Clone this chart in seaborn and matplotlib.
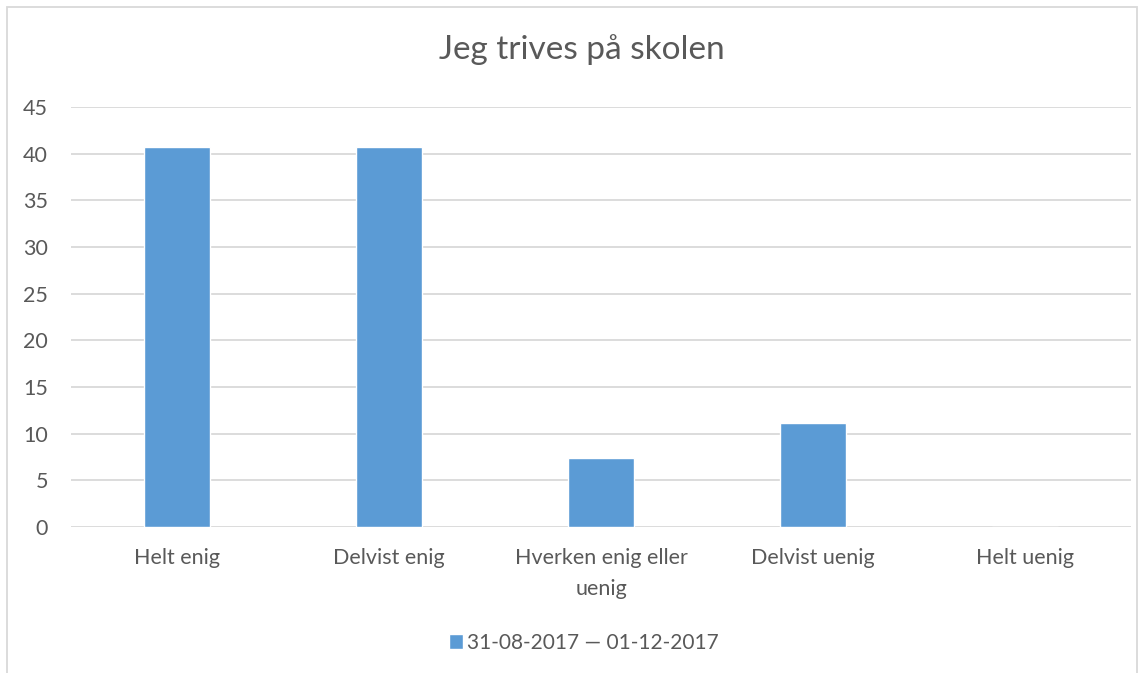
import matplotlib.pyplot as plt
import pandas as pd
import seaborn as sns
from matplotlib.patches import Rectangle


# Dane wykresu
categories = ["Helt enig", "Delvist enig", "Hverken enig eller\nuenig", "Delvist uenig", "Helt uenig"]
values = [40.74, 40.74, 7.41, 11.11, 0.0]
series_label = "31-08-2017 \u2014 01-12-2017"
y_ticks = [0, 5, 10, 15, 20, 25, 30, 35, 40, 45]

BAR_COLOR = "#5B9BD5"
TEXT_COLOR = "#595959"
GRID_COLOR = "#D9D9D9"

df = pd.DataFrame({"kategori": categories, "verdi": values})

sns.set_style("white")
plt.rcParams["font.family"] = ["Lato", "DejaVu Sans"]

fig = plt.figure(figsize=(11.45, 6.73), dpi=100)
ax = fig.add_axes([0.062, 0.2169, 0.9258, 0.6241])

sns.barplot(data=df, x="kategori", y="verdi", color=BAR_COLOR, width=0.31,
            saturation=1, label=series_label, ax=ax)

ax.set_ylim(0, 45)
ax.set_yticks(y_ticks)
ax.set_xlim(-0.5, len(categories) - 0.5)
ax.yaxis.grid(True, color=GRID_COLOR, linewidth=1.3)
ax.set_axisbelow(True)
for spine in ax.spines.values():
    spine.set_visible(False)
ax.tick_params(axis="y", length=0, pad=16.5, labelsize=15.5, labelcolor=TEXT_COLOR)
ax.tick_params(axis="x", length=0, pad=15, labelsize=15.5, labelcolor=TEXT_COLOR)
for label in ax.get_xticklabels():
    label.set_linespacing(1.7)
ax.set_xlabel("")
ax.set_ylabel("")

fig.suptitle("Jeg trives på skolen", x=0.508, y=0.926, va="center",
             fontsize=24, color=TEXT_COLOR)

ax.legend(loc="center", bbox_to_anchor=(0.51, 0.045), bbox_transform=fig.transFigure,
          frameon=False, fontsize=15, labelcolor=TEXT_COLOR,
          handlelength=0.7, handleheight=0.7, handletextpad=0.2)

# Ramka wokol wykresu
fig.patches.append(Rectangle((0.0061, -0.02), 0.987, 1.0096, transform=fig.transFigure,
                             fill=False, edgecolor=GRID_COLOR, linewidth=1.3))

fig.savefig("out.png", dpi=100)
